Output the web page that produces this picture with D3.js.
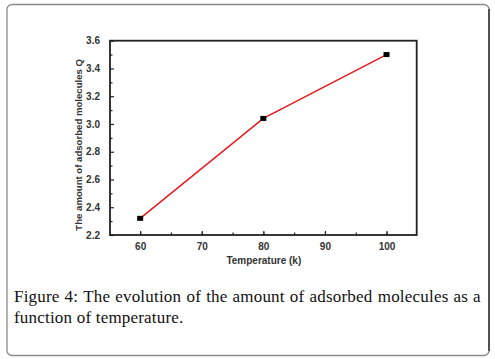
<!DOCTYPE html>
<html><head><meta charset="utf-8">
<script src="https://cdn.jsdelivr.net/npm/d3@7"></script>
<style>html,body{margin:0;padding:0;background:#fff;}svg{display:block;}</style>
</head><body>
<svg id="c" width="495" height="359"></svg>
<script>
const temperatures = [60, 80, 100];
const amounts = [2.32, 3.04, 3.5];
const xTicks = [60, 70, 80, 90, 100];
const yTicks = [2.2, 2.4, 2.6, 2.8, 3.0, 3.2, 3.4, 3.6];
const xLabel = "Temperature (k)";
const yLabel = "The amount of adsorbed molecules Q";
const captionBold = "Figure 4:";
const captionLine1 = "The evolution of the amount of adsorbed molecules as a";
const captionLine2 = "function of temperature.";

const svg = d3.select("#c");
// outer rounded box
svg.append("rect").attr("x", 7).attr("y", 4.5).attr("width", 482).attr("height", 351)
  .attr("rx", 5).attr("fill", "none").attr("stroke", "#8a8a8a").attr("stroke-width", 1.3);
svg.append("line").attr("x1", 489).attr("x2", 489).attr("y1", 9).attr("y2", 351)
  .attr("stroke", "#111").attr("stroke-width", 1.2);

const L = 110, R = 416.7, T = 40.7, B = 235;
const x = d3.scaleLinear().domain([55.1, 104.9]).range([L, R]);
const y = d3.scaleLinear().domain([2.2, 3.6]).range([B, T]);
const font = "Liberation Sans, Arial, sans-serif";

const g = svg.append("g");
const xMinor = d3.range(55, 105.01, 5).filter(v => v > 55.1 && v < 104.9);
const yMinor = d3.range(2.3, 3.6, 0.2);
const xAxis = d3.axisBottom(x).tickValues(xTicks).tickFormat(d3.format("d")).tickSize(-4).tickPadding(8);
const yAxis = d3.axisLeft(y).tickValues(yTicks).tickFormat(d3.format(".1f")).tickSize(-4).tickPadding(10);
const gx = g.append("g").attr("transform", `translate(0,${B})`).call(xAxis);
const gy = g.append("g").attr("transform", `translate(${L},0)`).call(yAxis);
g.append("g").attr("transform", `translate(0,${B})`).call(d3.axisBottom(x).tickValues(xMinor).tickSize(-2.5).tickFormat(""))
  .call(s => s.select(".domain").remove());
g.append("g").attr("transform", `translate(${L},0)`).call(d3.axisLeft(y).tickValues(yMinor).tickSize(-2.5).tickFormat(""))
  .call(s => s.select(".domain").remove());
[gx, gy].forEach(a => {
  a.select(".domain").remove();
  a.selectAll("text").attr("font-family", font).attr("font-size", 10).attr("font-weight", "bold").attr("fill", "#333");
});
g.selectAll(".tick line").attr("stroke", "#222").attr("stroke-width", 1.2);

// frame
g.append("rect").attr("x", L).attr("y", T).attr("width", R - L).attr("height", B - T)
  .attr("fill", "none").attr("stroke", "#222").attr("stroke-width", 1.8);

// line + markers
const data = temperatures.map((t, i) => ({t, q: amounts[i]}));
g.append("path").datum(data).attr("fill", "none").attr("stroke", "#e8191c").attr("stroke-width", 1.5)
  .attr("d", d3.line().x(d => x(d.t)).y(d => y(d.q)));
g.selectAll("rect.m").data(data).enter().append("rect").attr("class", "m")
  .attr("x", d => x(d.t) - 3).attr("y", d => y(d.q) - 2.5).attr("width", 6).attr("height", 5).attr("fill", "#000");

// axis titles
svg.append("text").attr("x", (L + R) / 2 + 0.5).attr("y", 263.5).attr("text-anchor", "middle")
  .attr("font-family", font).attr("font-size", 10).attr("font-weight", "bold").attr("fill", "#333").text(xLabel);
svg.append("text").attr("transform", `translate(82,${(T + B) / 2 + 7}) rotate(-90)`).attr("text-anchor", "middle")
  .attr("font-family", font).attr("font-size", 9.6).attr("font-weight", "bold").attr("fill", "#333").text(yLabel);

// caption, line 1 justified
const cf = "Liberation Serif, Times New Roman, serif";
const fs = 17;
const ls = 0.2;
const words = [captionBold.split(" "), captionLine1.split(" ")].flat();
const cx0 = 14, cx1 = 481;
const tmp = svg.append("g");
const widths = words.map(w => {
  const t = tmp.append("text").attr("font-family", cf).attr("font-size", fs).attr("letter-spacing", ls).text(w);
  return t.node().getBBox().width;
});
tmp.remove();
const total = d3.sum(widths);
const gap = (cx1 - cx0 - total) / (words.length - 1);
let cx = cx0;
words.forEach((w, i) => {
  svg.append("text").attr("x", cx).attr("y", 302).attr("font-family", cf).attr("font-size", fs)
    .attr("letter-spacing", ls).attr("fill", "#111").text(w);
  cx += widths[i] + gap;
});
svg.append("text").attr("x", cx0).attr("y", 322.5).attr("font-family", cf).attr("font-size", fs)
  .attr("letter-spacing", ls).attr("fill", "#111").text(captionLine2);
</script>
</body></html>
